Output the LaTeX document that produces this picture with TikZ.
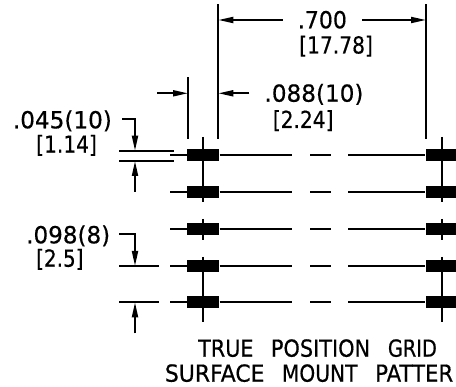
\documentclass[tikz,border=0pt]{standalone}
\usepackage{fontspec}
\usepackage{graphicx}
\setmainfont{DejaVu Sans}[FakeBold=0.5]
\usetikzlibrary{arrows.meta}
\tikzset{
  dim/.style={line width=1.9pt},
  rowline/.style={line width=2pt},
  arr/.style={dim,-{Triangle[length=15pt,width=6pt]}},
  pad/.style={fill=black,draw=none,minimum width=32pt,minimum height=12pt,inner sep=0pt},
  lab/.style={anchor=base west,inner sep=0pt,font=\fontsize{23.5}{25}\selectfont},
}
\newcommand{\fitw}[2]{\resizebox{#1pt}{\height}{#2}}
\begin{document}
\begin{tikzpicture}[x=1pt,y=-1pt]
\useasboundingbox (0,0) rectangle (456,387);
% pads
\foreach \n/\y in {1/155.5,2/192.5,3/229,4/266,5/302.5}{
  \node[pad] (L\n) at (203.3,\y) {};
  \node[pad] (R\n) at (441.6,\y) {};
  \coordinate (S\n) at (170,\y);
  \coordinate (A\n) at (292.3,\y);
  \coordinate (B\n) at (310.3,\y);
  \coordinate (C\n) at (330.7,\y);
  \coordinate (D\n) at (348.3,\y);
  \draw[rowline] (S\n) -- (L\n.west);
  \draw[rowline] (L\n.east) -- (A\n);
  \draw[rowline] (B\n) -- (C\n);
  \draw[rowline] (D\n) -- (R\n.west);
}
% pad verticals
\foreach \s in {L,R}{
  \path (\s1.center) ++(0,-18.7) coordinate (\s t1);
  \path (\s2.center) ++(0,9.4) coordinate (\s b2);
  \path (\s3.center) ++(0,-10) coordinate (\s t3);
  \path (\s3.center) ++(0,11) coordinate (\s b3);
  \path (\s4.center) ++(0,-9) coordinate (\s t4);
  \path (\s5.center) ++(0,19.4) coordinate (\s b5);
  \draw[dim] (\s t1) -- (\s b2);
  \draw[dim] (\s t3) -- (\s b3);
  \draw[dim] (\s t4) -- (\s b5);
}
% extension lines
\coordinate (e1a) at (218.3,4.5); \coordinate (e1b) at (218.3,139);
\coordinate (e2a) at (426,4.5);   \coordinate (e2b) at (426,139);
\coordinate (e3a) at (188,77.3);  \coordinate (e3b) at (188,139);
\draw[dim] (e1a) -- (e1b);
\draw[dim] (e2a) -- (e2b);
\draw[dim] (e3a) -- (e3b);
% top dim
\coordinate (t1) at (282.7,20);  \coordinate (t1e) at (218.3,20);
\coordinate (t2) at (362.3,20);  \coordinate (t2e) at (426,20);
\draw[arr] (t1) -- (t1e);
\draw[arr] (t2) -- (t2e);
% pad width dim
\coordinate (w1) at (157.3,93.3); \coordinate (w1e) at (188,93.3);
\coordinate (w2) at (249.3,93.3); \coordinate (w2e) at (218.3,93.3);
\draw[arr] (w1) -- (w1e);
\draw[arr] (w2) -- (w2e);
% .045 dim
\coordinate (a0) at (119.3,150.7); \coordinate (a1) at (173.7,150.7);
\coordinate (a2) at (119.3,161);   \coordinate (a3) at (173.7,161);
\draw[dim] (a0) -- (a1);
\draw[dim] (a2) -- (a3);
\coordinate (l1) at (122.3,119.3); \coordinate (l2) at (135,119.3); \coordinate (l3) at (135,150.7);
\draw[arr] (l1) -- (l2) -- (l3);
\coordinate (l4) at (135,192); \coordinate (l5) at (135,161);
\draw[arr] (l4) -- (l5);
% .098 dim
\coordinate (b0) at (119.3,266); \coordinate (b1) at (159,266);
\coordinate (b2) at (119.3,302.3); \coordinate (b3) at (159,302.3);
\draw[dim] (b0) -- (b1);
\draw[dim] (b2) -- (b3);
\coordinate (m1) at (119.3,234.3); \coordinate (m2) at (135,234.3); \coordinate (m3) at (135,266);
\draw[arr] (m1) -- (m2) -- (m3);
\coordinate (m4) at (135,333.3); \coordinate (m5) at (135,302.3);
\draw[arr] (m4) -- (m5);
% labels
\node[lab] (t700) at (297.7,28.3) {\fitw{49}{.700}};
\node[lab] (t1778) at (299,53.5) {\fitw{73.7}{[17.78]}};
\node[lab] (t088) at (264.3,101.7) {\fitw{99}{.088(10)}};
\node[lab] (t224) at (272.7,128) {\fitw{60.6}{[2.24]}};
\node[lab] (t045) at (12.7,128.3) {\fitw{99}{.045(10)}};
\node[lab] (t114) at (36,152.7) {\fitw{60.7}{[1.14]}};
\node[lab] (t098) at (26,243.3) {\fitw{84}{.098(8)}};
\node[lab] (t25) at (36,266.7) {\fitw{47.3}{[2.5]}};
\node[lab] (cap1) at (198,356.7) {\fitw{55.3}{TRUE}\hspace{17.4pt}\fitw{99.3}{POSITION}\hspace{17.7pt}\fitw{49}{GRID}};
\node[lab] (cap2) at (164.7,381.7) {\fitw{99.6}{SURFACE}\hspace{17.4pt}\fitw{75.6}{MOUNT}\hspace{17.7pt}\fitw{78}{PATTER}};
\end{tikzpicture}
\end{document}
